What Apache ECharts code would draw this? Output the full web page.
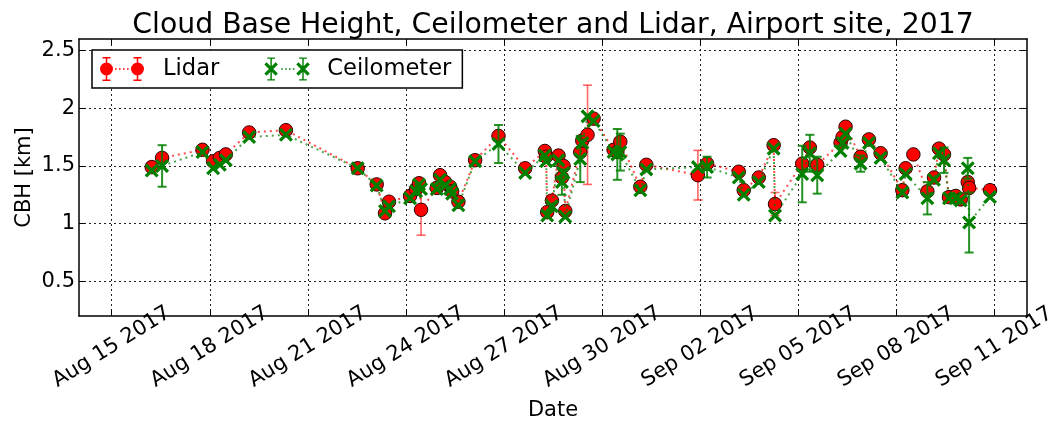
<!DOCTYPE html>
<html>
<head>
<meta charset="utf-8">
<script src="https://cdn.jsdelivr.net/npm/echarts@6/dist/echarts.min.js"></script>
<style>html,body{margin:0;padding:0;background:#fff}#c{width:1052px;height:421px}</style>
</head>
<body>
<div id="c"></div>
<script>
// ---- data ----
const times = [
 '2017-08-16 05:24','2017-08-16 13:00','2017-08-17 18:40','2017-08-18 02:28','2017-08-18 07:24','2017-08-18 11:48',
 '2017-08-19 04:55','2017-08-20 07:54','2017-08-22 12:36','2017-08-23 02:34','2017-08-23 08:40','2017-08-23 11:37',
 '2017-08-24 03:03','2017-08-24 07:28','2017-08-24 09:40','2017-08-24 11:08','2017-08-24 22:41','2017-08-25 01:06',
 '2017-08-25 04:47','2017-08-25 08:27','2017-08-25 09:55','2017-08-25 14:33','2017-08-26 02:50','2017-08-26 19:58',
 '2017-08-27 15:35','2017-08-28 06:00','2017-08-28 07:00','2017-08-28 07:45','2017-08-28 11:12','2017-08-28 16:03',
 '2017-08-28 18:33','2017-08-28 19:44','2017-08-28 21:00','2017-08-29 08:01','2017-08-29 09:29','2017-08-29 13:22',
 '2017-08-29 17:47','2017-08-30 08:29','2017-08-30 11:13','2017-08-30 13:25','2017-08-31 04:06','2017-08-31 08:31',
 '2017-09-01 22:22','2017-09-02 05:08','2017-09-03 04:22','2017-09-03 08:02','2017-09-03 19:04','2017-09-04 06:00',
 '2017-09-04 07:00','2017-09-05 02:58','2017-09-05 08:34','2017-09-05 14:00','2017-09-06 07:08','2017-09-06 08:36',
 '2017-09-06 10:48','2017-09-06 21:50','2017-09-07 03:56','2017-09-07 12:32','2017-09-08 04:29','2017-09-08 06:55',
 '2017-09-08 12:34','2017-09-08 22:51','2017-09-09 03:43','2017-09-09 07:23','2017-09-09 11:04','2017-09-09 14:44',
 '2017-09-09 19:39','2017-09-09 23:20','2017-09-10 04:30','2017-09-10 05:30','2017-09-10 20:51'
];
const lidarCBH = [
 1.49,1.57,1.64,1.54,1.57,1.60,
 1.79,1.81,1.48,1.34,1.09,1.19,
 1.24,1.30,1.35,1.12,1.31,1.42,
 1.36,1.32,1.28,1.19,1.55,1.76,
 1.48,1.63,1.58,1.10,1.20,1.59,
 1.40,1.50,1.11,1.62,1.72,1.77,
 1.91,1.64,1.62,1.71,1.32,1.51,
 1.42,1.52,1.45,1.29,1.40,1.68,
 1.17,1.52,1.66,1.51,1.70,1.75,
 1.84,1.58,1.73,1.61,1.29,1.48,
 1.60,1.28,1.40,1.65,1.60,1.23,
 1.24,1.21,1.36,1.31,1.29
];
const lidarErr = [
 0,0,0,0,0,0,
 0,0,0,0,0,0,
 0,0,0,0.22,0,0,
 0,0,0,0,0,0,
 0,0,0,0,0,0,
 0,0,0,0,0,0.43,
 0,0,0,0,0,0,
 0.215,0,0,0,0,0,
 0.10,0,0,0,0,0,
 0,0,0,0,0,0,
 0,0,0,0,0,0,
 0,0,0,0,0
];
const ceilCBH = [
 1.46,1.50,1.62,1.48,1.51,1.55,
 1.75,1.77,1.48,1.33,1.11,1.15,
 1.22,1.28,1.34,1.30,1.30,1.38,
 1.33,1.30,1.26,1.16,1.54,1.69,
 1.44,1.59,1.54,1.07,1.15,1.55,
 1.36,1.44,1.06,1.56,1.70,1.93,
 1.89,1.62,1.60,1.62,1.29,1.47,
 1.49,1.49,1.40,1.25,1.36,1.65,
 1.07,1.43,1.61,1.42,1.63,1.70,
 1.78,1.52,1.70,1.57,1.27,1.43,
 null,1.22,1.38,1.61,1.55,1.22,
 1.22,1.20,1.48,1.01,1.23
];
const ceilErr = [
 0,0.18,0,0,0,0,
 0,0,0,0,0,0,
 0,0,0,0,0,0,
 0,0,0,0,0,0.165,
 0,0,0,0,0,0,
 0.11,0,0,0.20,0,0,
 0,0,0.22,0.16,0,0,
 0,0.09,0,0,0,0,
 0,0.245,0.16,0.16,0,0,
 0,0.07,0,0,0,0,
 0,0.14,0,0,0.11,0,
 0,0,0.09,0.26,0
];
const xTickDates = ['2017-08-15','2017-08-18','2017-08-21','2017-08-24','2017-08-27','2017-08-30','2017-09-02','2017-09-05','2017-09-08','2017-09-11'];
const xTickLabels = ['Aug 15 2017','Aug 18 2017','Aug 21 2017','Aug 24 2017','Aug 27 2017','Aug 30 2017','Sep 02 2017','Sep 05 2017','Sep 08 2017','Sep 11 2017'];
const yTicks = [0.5, 1, 1.5, 2, 2.5];
const xRange = ['2017-08-14', '2017-09-12'];
const yRange = [0.2, 2.6];

// ---- build ----
const FONT = 'DejaVu Sans';
const parseT = s => +echarts.time.parse(s);
const xTickVals = xTickDates.map(parseT);
const xMin = parseT(xRange[0]), xMax = parseT(xRange[1]);

const lidarData = times.map((t, i) => [parseT(t), lidarCBH[i]]);
const ceilData = times.map((t, i) => [parseT(t), ceilCBH[i]]);
const lidarErrData = [], ceilErrData = [];
times.forEach((t, i) => {
  if (lidarErr[i] > 0) lidarErrData.push([parseT(t), lidarCBH[i], lidarErr[i]]);
  if (ceilErr[i] > 0 && ceilCBH[i] != null) ceilErrData.push([parseT(t), ceilCBH[i], ceilErr[i]]);
});

function errRender(color, lw, cap) {
  return function (params, api) {
    const x = api.value(0), y = api.value(1), e = api.value(2);
    const a = api.coord([x, y + e]), b = api.coord([x, y - e]);
    const st = { stroke: color, lineWidth: lw };
    return { type: 'group', children: [
      { type: 'line', shape: { x1: a[0], y1: a[1], x2: b[0], y2: b[1] }, style: st },
      { type: 'line', shape: { x1: a[0] - cap, y1: a[1], x2: a[0] + cap, y2: a[1] }, style: st },
      { type: 'line', shape: { x1: b[0] - cap, y1: b[1], x2: b[0] + cap, y2: b[1] }, style: st }
    ]};
  };
}

const X_PATH = 'path://M0,2.3L2.3,0L14,11.7L11.7,14Z M11.7,0L14,2.3L2.3,14L0,11.7Z';
const lidarIcon = 'path://' +
  'M0,12a6.5,6.5 0 1,1 13,0a6.5,6.5 0 1,1 -13,0Z ' +
  'M31,12a6.5,6.5 0 1,1 13,0a6.5,6.5 0 1,1 -13,0Z ' +
  'M5.75,1h1.5v22h-1.5Z M2.5,0h8v1.5h-8Z M2.5,22.5h8v1.5h-8Z ' +
  'M36.75,1h1.5v22h-1.5Z M33.5,0h8v1.5h-8Z M33.5,22.5h8v1.5h-8Z ' +
  'M15,11.2h1.6v1.6h-1.6Z M19,11.2h1.6v1.6h-1.6Z M23,11.2h1.6v1.6h-1.6Z M27,11.2h1.6v1.6h-1.6Z ' +
  'M58,12L58,12Z';
const ceilIcon = 'path://' +
  'M0,7.3L2.3,5L14,16.7L11.7,19Z M11.7,5L14,7.3L2.3,19L0,16.7Z ' +
  'M33,7.3L35.3,5L47,16.7L44.7,19Z M44.7,5L47,7.3L35.3,19L33,16.7Z ' +
  'M6.25,1h1.5v22h-1.5Z M3,0h8v1.5h-8Z M3,22.5h8v1.5h-8Z ' +
  'M39.25,1h1.5v22h-1.5Z M36,0h8v1.5h-8Z M36,22.5h8v1.5h-8Z ' +
  'M17.5,11.2h1.6v1.6h-1.6Z M21.5,11.2h1.6v1.6h-1.6Z M25.5,11.2h1.6v1.6h-1.6Z M29.5,11.2h1.6v1.6h-1.6Z ' +
  'M60,12L60,12Z';

const chart = echarts.init(document.getElementById('c'), null, { renderer: 'canvas' });
const axisLineStyle = { color: '#000', width: 1.5 };
const tickStyle = { show: true, inside: true, length: 6, lineStyle: { color: '#000', width: 1 } };
const gridLine = { show: true, lineStyle: { color: '#222', width: 1, type: [2, 3] } };

chart.setOption({
  animation: false,
  backgroundColor: '#fff',
  textStyle: { fontFamily: FONT },
  title: {
    text: 'Cloud Base Height, Ceilometer and Lidar, Airport site, 2017',
    left: 548, top: 7, textAlign: 'center',
    textStyle: { fontFamily: FONT, fontSize: 28.3, fontWeight: 'normal', color: '#000' }
  },
  legend: {
    left: 92, top: 50, orient: 'horizontal',
    itemWidth: 58, itemHeight: 24, itemGap: 45,
    padding: [7, 11, 7, 8],
    borderColor: '#000', borderWidth: 1.5, backgroundColor: '#fff',
    textStyle: { fontFamily: FONT, fontSize: 22.6, color: '#000' },
    data: [
      { name: 'Lidar', icon: lidarIcon, itemStyle: { color: '#ff0000', borderWidth: 0 } },
      { name: 'Ceilometer', icon: ceilIcon, itemStyle: { color: '#008000', borderWidth: 0 } }
    ]
  },
  grid: { left: 79, right: 25, top: 39, bottom: 105, containLabel: false, outerBoundsMode: 'none' },
  xAxis: [{
    type: 'value', min: xMin, max: xMax, position: 'bottom',
    name: 'Date', nameLocation: 'middle', nameGap: 84, nameMoveOverlap: false,
    nameTextStyle: { fontFamily: FONT, fontSize: 21, color: '#000' },
    axisLine: { show: true, onZero: false, lineStyle: axisLineStyle },
    axisTick: Object.assign({ customValues: xTickVals }, tickStyle),
    axisLabel: {
      customValues: xTickVals, rotate: 32, align: 'center', verticalAlign: 'middle', margin: 31,
      fontFamily: FONT, fontSize: 21, color: '#000', hideOverlap: false,
      formatter: v => { const i = xTickVals.indexOf(+v); return i >= 0 ? xTickLabels[i] : ''; }
    },
    splitLine: gridLine
  }, {
    type: 'value', min: xMin, max: xMax, position: 'top',
    axisLine: { show: true, onZero: false, lineStyle: axisLineStyle },
    axisTick: Object.assign({ customValues: xTickVals }, tickStyle),
    axisLabel: { show: false }, splitLine: { show: false }
  }],
  yAxis: [{
    type: 'value', min: yRange[0], max: yRange[1], position: 'left',
    name: 'CBH [km]', nameLocation: 'middle', nameGap: 44, nameRotate: 90, nameMoveOverlap: false,
    nameTextStyle: { fontFamily: FONT, fontSize: 21, color: '#000' },
    axisLine: { show: true, onZero: false, lineStyle: axisLineStyle },
    axisTick: Object.assign({ customValues: yTicks }, tickStyle),
    axisLabel: { customValues: yTicks, margin: 4, fontFamily: FONT, fontSize: 21, color: '#000' },
    splitLine: gridLine
  }, {
    type: 'value', min: yRange[0], max: yRange[1], position: 'right',
    axisLine: { show: true, onZero: false, lineStyle: axisLineStyle },
    axisTick: Object.assign({ customValues: yTicks }, tickStyle),
    axisLabel: { show: false }, splitLine: { show: false }
  }],
  series: [
    {
      name: 'Lidar err', type: 'custom', xAxisIndex: 0, yAxisIndex: 0, z: 2,
      renderItem: errRender('rgba(255,0,0,0.6)', 1.6, 4.5),
      encode: { x: 0, y: 1 }, data: lidarErrData, silent: true
    },
    {
      name: 'Lidar', type: 'line', xAxisIndex: 0, yAxisIndex: 0, z: 3,
      data: lidarData, connectNulls: true,
      symbol: 'circle', symbolSize: 13.5, showAllSymbol: true,
      itemStyle: { color: '#ff0000', borderColor: '#2a0000', borderWidth: 1 },
      lineStyle: { color: '#ff0000', width: 2, type: [2, 4], opacity: 0.7 }
    },
    {
      name: 'Ceil err', type: 'custom', xAxisIndex: 0, yAxisIndex: 0, z: 4,
      renderItem: errRender('rgba(0,128,0,0.85)', 2, 4.5),
      encode: { x: 0, y: 1 }, data: ceilErrData, silent: true
    },
    {
      name: 'Ceilometer', type: 'line', xAxisIndex: 0, yAxisIndex: 0, z: 5,
      data: ceilData, connectNulls: true,
      symbol: X_PATH, symbolSize: 14, symbolKeepAspect: true, showAllSymbol: true,
      itemStyle: { color: '#008000', borderWidth: 0 },
      lineStyle: { color: '#008000', width: 2, type: [2, 4], opacity: 0.7 }
    }
  ]
});
</script>
</body>
</html>
